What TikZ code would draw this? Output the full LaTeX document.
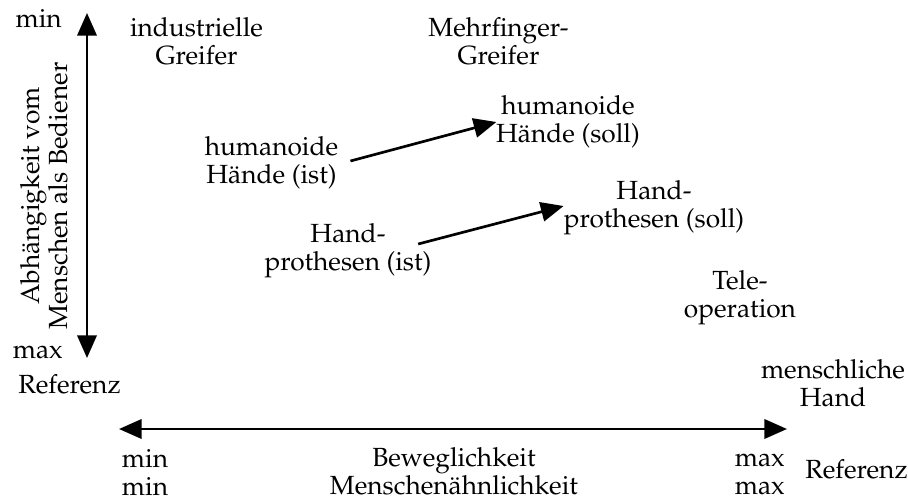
\documentclass[tikz,border=0pt]{standalone}
\usepackage[T1]{fontenc}
\usepackage{mathpazo}
\usetikzlibrary{arrows.meta,calc}
\begin{document}
\begin{tikzpicture}[x=0.75pt,y=-0.75pt,
  lbl/.style={inner sep=0pt,align=center,font=\fontsize{19.7}{21}\selectfont},
  arr/.style={line width=2pt,-{Triangle[length=17pt,width=14.5pt]}},
  axis/.style={line width=2pt,{Triangle[length=17pt,width=14.5pt]}-{Triangle[length=17pt,width=14.5pt]}}]
\useasboundingbox (0,0) rectangle (908,501);

% vertical axis: dependence on a human operator
\coordinate (vtop) at (87,13);
\coordinate (vbot) at (87,358);
\draw[axis] (vtop) -- (vbot);
\node[lbl,anchor=base east] (vmin) at (62,27) {min};
\node[lbl,anchor=base east] (vmax) at (63,358) {max};
\node[lbl,anchor=base west] (vref) at (18,393) {Referenz};
\node[lbl,rotate=90] (vlab) at (44,196) {Abh\"angigkeit vom\\Menschen als Bediener};

% horizontal axis: mobility / human likeness
\coordinate (hleft) at (119,429);
\coordinate (hright) at (787,429);
\draw[axis] (hleft) -- (hright);
\node[lbl,anchor=west] (hmin) at (121.7,472) {min\\min};
\node[lbl,anchor=east] (hmax) at (785,474.3) {max\\max};
\node[lbl] (hlab) at (454,471) {Beweglichkeit\\Menschen\"ahnlichkeit};
\node[lbl,anchor=base west] (href) at (805,478) {Referenz};

% gripper categories
\node[lbl] (ig) at (196.5,41.2) {industrielle\\Greifer};
\node[lbl] (mg) at (498.5,41.2) {Mehrfinger-\\Greifer};
\node[lbl] (hi) at (271.5,163) {humanoide\\H\"ande (ist)};
\node[lbl] (hs) at (568,121.5) {humanoide\\H\"ande (soll)};
\node[lbl] (pi) at (348,251) {Hand-\\prothesen (ist)};
\node[lbl] (ps) at (654,208) {Hand-\\prothesen (soll)};
\node[lbl] (to) at (740,298) {Tele-\\operation};
\node[lbl] (mh) at (833,383) {menschliche\\Hand};

% development from current state to target
\draw[arr] ($(hi.east)+(12,-2)$) -- ($(hs.west)+(0.5,0.5)$);
\draw[arr] ($(pi.east)+(-13.5,-7)$) -- ($(ps.west)+(0,-2)$);
\end{tikzpicture}
\end{document}
